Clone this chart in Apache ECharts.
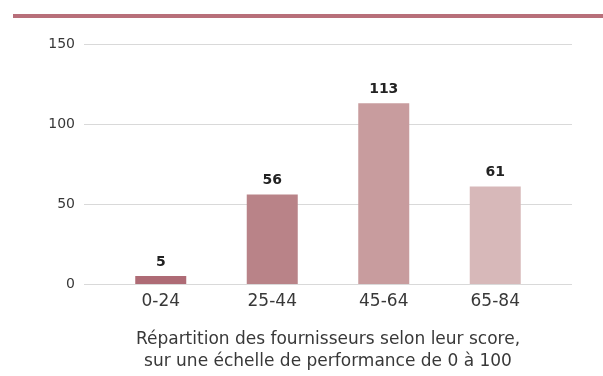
<!DOCTYPE html>
<html>
<head>
<meta charset="utf-8">
<script src="https://cdn.jsdelivr.net/npm/echarts@6/dist/echarts.min.js"></script>
<style>
  html, body { margin: 0; padding: 0; background: #ffffff; }
  #chart { width: 603px; height: 376px; }
</style>
</head>
<body>
<div id="chart"></div>
<script>
// Score bands and number of suppliers in each
const categories = ['0-24', '25-44', '45-64', '65-84'];
const counts = [5, 56, 113, 61];
const barColors = ['#ae6b75', '#b98388', '#c89c9e', '#d7b8b9'];
const yTicks = [0, 50, 100, 150];
const axisTitle = 'Répartition des fournisseurs selon leur score,\nsur une échelle de performance de 0 à 100';

const FONT = '"DejaVu Sans", "Noto Sans", sans-serif';
const chart = echarts.init(document.getElementById('chart'), null, { renderer: 'canvas' });

const yMin = yTicks[0];
const yMax = yTicks[yTicks.length - 1];
const yStep = yTicks[1] - yTicks[0];

chart.setOption({
  animation: false,
  backgroundColor: '#ffffff',
  graphic: [{
    type: 'rect',
    shape: { x: 13, y: 14, width: 590, height: 4 },
    style: { fill: '#b86f7a' }
  }],
  grid: [
    // wide grid carries the horizontal guide lines and y labels
    { left: 84, right: 31, top: 44, bottom: 92, containLabel: false, outerBoundsMode: 'none' },
    // inner grid holds the bars
    { left: 105, right: 52, top: 44, bottom: 92, containLabel: false, outerBoundsMode: 'none' }
  ],
  xAxis: [
    { gridIndex: 0, type: 'value', show: false, min: 0, max: 1 },
    {
      gridIndex: 1,
      type: 'category',
      data: categories,
      axisLine: { show: false },
      axisTick: { show: false },
      axisLabel: { color: '#383838', fontSize: 17, fontFamily: FONT, margin: 9 },
      name: axisTitle,
      nameLocation: 'middle',
      nameGap: 45,
      nameTextStyle: { color: '#383838', fontSize: 17, fontFamily: FONT, lineHeight: 22 }
    }
  ],
  yAxis: [
    {
      gridIndex: 0,
      type: 'value',
      min: yMin, max: yMax, interval: yStep,
      axisLine: { show: false },
      axisTick: { show: false },
      axisLabel: { color: '#383838', fontSize: 14, fontFamily: FONT, margin: 9 },
      splitLine: { lineStyle: { color: '#d9d9d9', width: 1 } }
    },
    {
      gridIndex: 1,
      type: 'value',
      min: yMin, max: yMax, interval: yStep,
      show: false,
      splitLine: { show: false }
    }
  ],
  series: [{
    type: 'bar',
    xAxisIndex: 1,
    yAxisIndex: 1,
    barWidth: 51,
    data: counts.map((v, i) => ({ value: v, itemStyle: { color: barColors[i] } })),
    label: {
      show: true,
      position: 'top',
      distance: 7,
      color: '#222222',
      fontSize: 14,
      fontWeight: 'bold',
      fontFamily: FONT
    }
  }]
});
</script>
</body>
</html>
